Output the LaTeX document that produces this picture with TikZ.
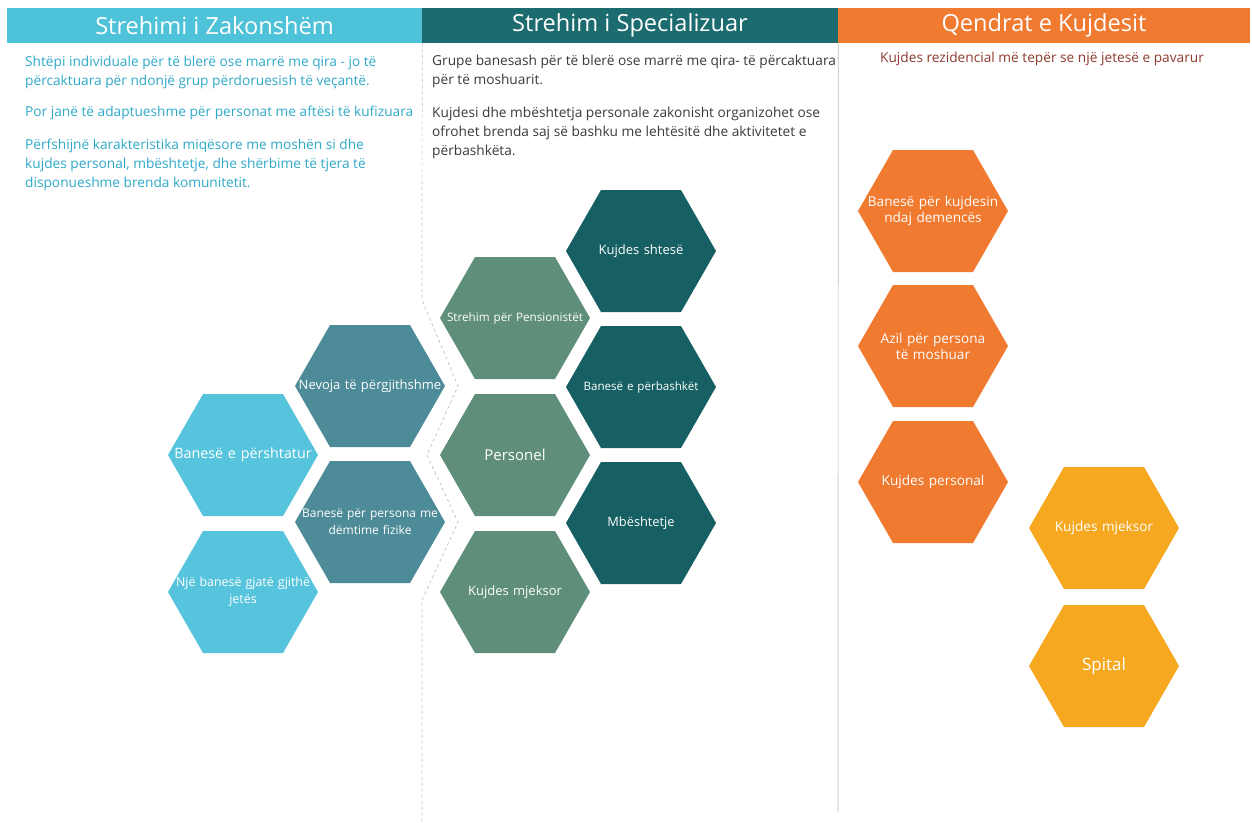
\documentclass[tikz,border=0pt]{standalone}
\usepackage{fontspec}
\setmainfont{Open Sans}
\usetikzlibrary{positioning}

\definecolor{hdrCyan}{HTML}{4EC2D9}
\definecolor{hdrTeal}{HTML}{1B6B6F}
\definecolor{hdrOrange}{HTML}{F07A30}
\definecolor{txtCyan}{HTML}{2FA9C8}
\definecolor{txtGray}{HTML}{3A3A3A}
\definecolor{txtRed}{HTML}{8E3A2E}
\definecolor{hexCyan}{HTML}{56C4DC}
\definecolor{hexSteel}{HTML}{4C8B97}
\definecolor{hexGreen}{HTML}{5F8E7A}
\definecolor{hexDark}{HTML}{165F62}
\definecolor{hexOrange}{HTML}{F07A2F}
\definecolor{hexYellow}{HTML}{F5A820}

\tikzset{
  hdr/.style={text=white, inner sep=0pt, minimum height=35pt,
    font=\fontsize{23.6}{26}\selectfont},
  bodytext/.style={inner sep=0pt, align=left,
    font=\fontsize{13.7}{19}\selectfont},
  hexa/.style={minimum width=150pt, minimum height=122pt, inner sep=0pt,
    text width=148pt, align=center, text=white,
    font=\fontsize{13}{16}\selectfont,
    path picture={\fill[#1] (path picture bounding box.west)
      -- ([xshift=35pt]path picture bounding box.north west)
      -- ([xshift=-35pt]path picture bounding box.north east)
      -- (path picture bounding box.east)
      -- ([xshift=-35pt]path picture bounding box.south east)
      -- ([xshift=35pt]path picture bounding box.south west) -- cycle;}},
  divider/.style={gray!50, line width=0.7pt}
}

\begin{document}
\begin{tikzpicture}[x=1pt, y=-1pt]
  \useasboundingbox (0,0) rectangle (1252,822);

  % headers
  \node[hdr, fill=hdrCyan, minimum width=415pt] (hA) at (214.5,25.5) {Strehimi i Zakonshëm};
  \node[hdr, fill=hdrTeal, minimum width=416pt] (hB) at (630,25.5) {Strehim i Specializuar};
  \node[hdr, fill=hdrOrange, minimum width=412pt] (hC) at (1044,25.5) {Qendrat e Kujdesit};

  % column texts
  \node[bodytext, text=txtCyan, anchor=north west] (pA) at (25,56)
    {Shtëpi individuale për të blerë ose marrë me qira - jo të\\
     përcaktuara për ndonjë grup përdoruesish të veçantë.\\[12pt]
     Por janë të adaptueshme për personat me aftësi të kufizuara\\[14pt]
     Përfshijnë karakteristika miqësore me moshën si dhe\\
     kujdes personal, mbështetje, dhe shërbime të tjera të\\
     disponueshme brenda komunitetit.};
  \node[bodytext, text=txtGray, anchor=north west] (pB) at (432,54.5)
    {Grupe banesash për të blerë ose marrë me qira- të përcaktuara\\
     për të moshuarit.\\[14pt]
     Kujdesi dhe mbështetja personale zakonisht organizohet ose\\
     ofrohet brenda saj së bashku me lehtësitë dhe aktivitetet e\\
     përbashkëta.};
  \node[bodytext, text=txtRed] (pC) at (1042,59)
    {Kujdes rezidencial më tepër se një jetesë e pavarur};

  % dividers
  \draw[divider, dashed] (hA.south east) -- (422,300) -- (458,386) -- (427,455)
    -- (458,522) -- (422,600) -- (422,822);
  \draw[divider] (hB.south east) -- (838,812);

  % ordinary housing
  \node[hexa=hexCyan, font=\fontsize{14.3}{17}\selectfont] (adapt) at (243,455) {Banesë e përshtatur};
  \node[hexa=hexCyan, font=\fontsize{12.4}{17}\selectfont] (lifelong) at (243,592) {Një banesë gjatë gjithë\\jetës};
  \node[hexa=hexSteel] (general) at (370,386) {Nevoja të përgjithshme};
  \node[hexa=hexSteel, font=\fontsize{12}{17}\selectfont] (physical) at (370,522) {Banesë për persona me\\dëmtime fizike};

  % specialised housing
  \node[hexa=hexGreen, font=\fontsize{11.7}{14}\selectfont] (retire) at (515,318) {Strehim për Pensionistët};
  \node[hexa=hexGreen, font=\fontsize{15}{18}\selectfont] (staff) at (515,455) {Personel};
  \node[hexa=hexGreen] (medA) at (515,592) {Kujdes mjeksor};
  \node[hexa=hexDark] (extra) at (641,251) {Kujdes shtesë};
  \node[hexa=hexDark, font=\fontsize{11.6}{14}\selectfont] (shared) at (641,387) {Banesë e përbashkët};
  \node[hexa=hexDark, font=\fontsize{12.8}{15}\selectfont] (support) at (641,523) {Mbështetje};

  % care centres
  \node[hexa=hexOrange, font=\fontsize{13.6}{16}\selectfont] (dementia) at (933,211) {Banesë për kujdesin\\ndaj demencës};
  \node[hexa=hexOrange, font=\fontsize{13.6}{16}\selectfont] (asylum) at (933,346) {Azil për persona\\të moshuar};
  \node[hexa=hexOrange, font=\fontsize{13.6}{16}\selectfont] (personal) at (933,482) {Kujdes personal};
  \node[hexa=hexYellow, font=\fontsize{13.6}{16}\selectfont] (medB) at (1104,528) {Kujdes mjeksor};
  \node[hexa=hexYellow, font=\fontsize{17}{20}\selectfont] (hospital) at (1104,666) {Spital};
\end{tikzpicture}
\end{document}
